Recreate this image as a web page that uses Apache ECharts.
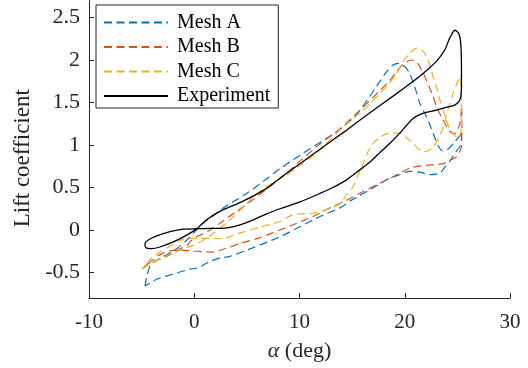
<!DOCTYPE html>
<html>
<head>
<meta charset="utf-8">
<script src="https://cdn.jsdelivr.net/npm/echarts@6/dist/echarts.min.js"></script>
<style>
html,body{margin:0;padding:0;background:#fff;}
#c{width:528px;height:368px;}
</style>
</head>
<body>
<div id="c"></div>
<script>
const seriesNames = ['Mesh A', 'Mesh B', 'Mesh C', 'Experiment'];
const xTicks = [-10, 0, 10, 20, 30];
const yTicks = [-0.5, 0, 0.5, 1, 1.5, 2, 2.5];

const meshA = [
  [-4.68,-0.66],[-4.54,-0.56],[-4.21,-0.43],[-3.73,-0.37],[-2.62,-0.29],[-1.67,-0.22],[-0.72,-0.12],
  [-0.09,-0.04],[0.85,0.08],[2.13,0.20],[2.75,0.26],[4.98,0.43],[6.43,0.56],[8.14,0.72],[10.04,0.88],
  [11.94,1.03],[13.36,1.14],[14.60,1.26],[15.74,1.41],[16.50,1.54],[17.32,1.69],[18.27,1.86],
  [18.87,1.94],[19.44,1.96],[20.01,1.92],[20.49,1.84],[20.80,1.73],[21.15,1.61],[21.43,1.49],
  [22.00,1.35],[22.70,1.14],[23.14,1.00],[23.62,0.93],[24.09,0.95],[24.76,1.04],[25.23,1.11],
  [25.38,1.16],[25.38,1.06],[25.23,0.98],[24.85,0.92],[24.29,0.81],[23.81,0.74],[23.34,0.67],
  [22.38,0.65],[21.43,0.68],[20.49,0.69],[19.53,0.65],[18.59,0.61],[17.45,0.53],[16.05,0.43],
  [14.79,0.34],[13.84,0.26],[12.51,0.19],[11.30,0.12],[9.75,0.02],[8.14,-0.08],[5.76,-0.20],
  [3.39,-0.31],[2.44,-0.33],[1.49,-0.37],[0.23,-0.45],[-0.41,-0.46],[-2.31,-0.53],[-3.57,-0.58],
  [-4.68,-0.66]
];

const meshB = [
  [-4.87,-0.45],[-4.21,-0.38],[-3.89,-0.37],[-2.62,-0.31],[-1.99,-0.27],[-1.36,-0.22],[-0.72,-0.19],
  [-0.41,-0.14],[0.23,-0.08],[0.54,-0.06],[1.49,0.00],[2.44,0.08],[4.03,0.22],[5.60,0.36],
  [7.19,0.51],[8.61,0.65],[10.04,0.81],[11.94,1.01],[13.84,1.19],[15.74,1.41],[17.64,1.64],
  [18.59,1.76],[19.53,1.91],[20.20,1.98],[20.67,2.00],[21.15,1.97],[21.62,1.88],[22.07,1.76],
  [22.70,1.57],[23.02,1.45],[23.65,1.29],[24.28,1.16],[24.76,1.13],[25.14,1.21],[25.33,1.33],
  [25.39,1.46],[25.42,1.29],[25.42,1.12],[25.39,0.98],[24.92,0.86],[24.28,0.82],[23.65,0.78],
  [22.07,0.76],[20.80,0.74],[19.85,0.69],[18.77,0.62],[17.64,0.55],[16.02,0.45],[14.47,0.35],
  [12.89,0.26],[11.30,0.16],[9.75,0.08],[8.14,0.00],[6.24,-0.09],[4.34,-0.16],[2.44,-0.24],
  [1.80,-0.26],[0.26,-0.25],[-1.07,-0.24],[-2.02,-0.24],[-3.26,-0.29],[-4.21,-0.38],[-4.87,-0.45]
];

const meshC = [
  [-4.97,-0.46],[-4.21,-0.40],[-3.26,-0.34],[-2.02,-0.27],[-0.79,-0.21],[-0.09,-0.18],[0.83,-0.12],
  [1.80,-0.04],[3.39,0.12],[4.98,0.31],[5.60,0.39],[6.88,0.51],[8.77,0.65],[10.04,0.76],
  [11.94,0.94],[13.84,1.18],[16.05,1.41],[18.27,1.69],[19.22,1.84],[19.85,1.98],[20.49,2.08],
  [21.12,2.14],[21.53,2.13],[22.07,2.04],[22.38,1.94],[22.70,1.80],[23.05,1.67],[23.34,1.53],
  [23.65,1.41],[23.98,1.28],[24.28,1.19],[24.76,1.11],[25.14,1.08],[25.39,1.24],[25.39,1.47],
  [25.38,1.67],[25.23,1.80],[24.85,1.69],[24.60,1.61],[24.09,1.41],[23.65,1.21],[23.14,1.06],
  [22.70,0.98],[22.19,0.93],[21.75,0.92],[21.24,0.96],[20.80,1.02],[20.10,1.09],[19.53,1.14],
  [18.59,1.14],[17.64,1.09],[17.00,1.02],[16.50,0.92],[16.05,0.78],[15.55,0.64],[15.10,0.51],
  [14.41,0.40],[13.84,0.31],[12.57,0.24],[11.30,0.20],[9.40,0.18],[8.14,0.10],[6.71,0.05],
  [5.29,0.00],[3.96,-0.05],[2.75,-0.10],[1.18,-0.10],[-0.41,-0.10],[-1.36,-0.12],[-2.31,-0.19],
  [-3.26,-0.26],[-4.21,-0.35],[-4.97,-0.46]
];

const experiment = [
  [0.23,0.01],[1.18,0.12],[2.44,0.22],[4.65,0.34],[6.88,0.49],[8.14,0.61],[10.04,0.78],
  [11.94,0.95],[14.31,1.16],[16.69,1.38],[19.06,1.59],[20.49,1.72],[21.91,1.86],[23.05,1.99],
  [23.81,2.12],[24.28,2.26],[24.76,2.35],[25.14,2.31],[25.33,2.18],[25.39,1.88],[25.38,1.65],
  [25.23,1.53],[24.76,1.47],[23.81,1.44],[23.02,1.41],[21.91,1.38],[20.77,1.31],[19.53,1.14],
  [18.59,1.02],[17.64,0.91],[16.69,0.80],[15.55,0.69],[14.47,0.59],[13.17,0.50],[11.94,0.43],
  [10.04,0.33],[8.14,0.25],[6.71,0.18],[5.60,0.12],[4.35,0.06],[3.39,0.03],[2.44,0.02],
  [1.49,0.02],[0.23,0.015],[-1.04,0.01],[-2.31,-0.02],[-3.57,-0.07],[-4.40,-0.12],[-4.68,-0.16],
  [-4.59,-0.21],[-4.02,-0.22],[-3.26,-0.20],[-1.99,-0.14],[-0.72,-0.06],[0.23,0.01]
];

const colors = ['#0072BD', '#D95319', '#EDB120', '#000000'];
const FONT = '"Liberation Serif", "Times New Roman", serif';
const axisColor = '#262626';

const chart = echarts.init(document.getElementById('c'), null, {renderer: 'canvas'});

function lineSeries(name, data, color, dashed, width) {
  return {
    name: name,
    type: 'line',
    data: data,
    showSymbol: false,
    symbol: 'none',
    smooth: 0.25,
    animation: false,
    lineStyle: {color: color, width: width, type: dashed ? [8, 4.5] : 'solid'},
    itemStyle: {color: color}
  };
}

chart.setOption({
  animation: false,
  backgroundColor: '#ffffff',
  grid: {left: 89, right: 18, top: 0.5, bottom: 70, outerBoundsMode: 'none', containLabel: false},
  legend: {
    left: 96, top: 5,
    orient: 'vertical',
    data: seriesNames,
    itemWidth: 64, itemHeight: 14, itemGap: 4.5,
    padding: [7.5, 8, 2, 7],
    borderColor: '#262626', borderWidth: 1,
    backgroundColor: '#ffffff',
    itemStyle: {opacity: 0},
    textStyle: {fontFamily: FONT, fontSize: 20, color: '#000', lineHeight: 20, padding: [0, 0, 0, 4]}
  },
  xAxis: {
    type: 'value', min: -10, max: 30, interval: 10,
    name: '{a|α} (deg)', nameLocation: 'middle', nameGap: 42,
    nameTextStyle: {fontFamily: FONT, fontSize: 22, color: axisColor,
      rich: {a: {fontFamily: FONT, fontSize: 22, fontStyle: 'italic', color: axisColor}}},
    axisLine: {show: true, onZero: false, lineStyle: {color: axisColor, width: 1}},
    axisTick: {show: true, inside: true, length: 5, lineStyle: {color: axisColor}, customValues: xTicks},
    axisLabel: {fontFamily: FONT, fontSize: 21, color: axisColor, margin: 14, customValues: xTicks},
    splitLine: {show: false}
  },
  yAxis: {
    type: 'value', min: -0.8, max: 2.7,
    name: 'Lift coefficient', nameLocation: 'middle', nameGap: 53,
    nameTextStyle: {fontFamily: FONT, fontSize: 23, color: axisColor, padding: [0, 18, 0, 0]},
    axisLine: {show: true, onZero: false, lineStyle: {color: axisColor, width: 1}},
    axisTick: {show: true, inside: true, length: 5, lineStyle: {color: axisColor}, customValues: yTicks},
    axisLabel: {fontFamily: FONT, fontSize: 22, color: axisColor, margin: 9, customValues: yTicks,
      formatter: function (v) { return String(v); }},
    splitLine: {show: false}
  },
  series: [
    lineSeries(seriesNames[0], meshA, colors[0], true, 1.2),
    lineSeries(seriesNames[1], meshB, colors[1], true, 1.2),
    lineSeries(seriesNames[2], meshC, colors[2], true, 1.2),
    lineSeries(seriesNames[3], experiment, colors[3], false, 1.3)
  ]
});
</script>
</body>
</html>
